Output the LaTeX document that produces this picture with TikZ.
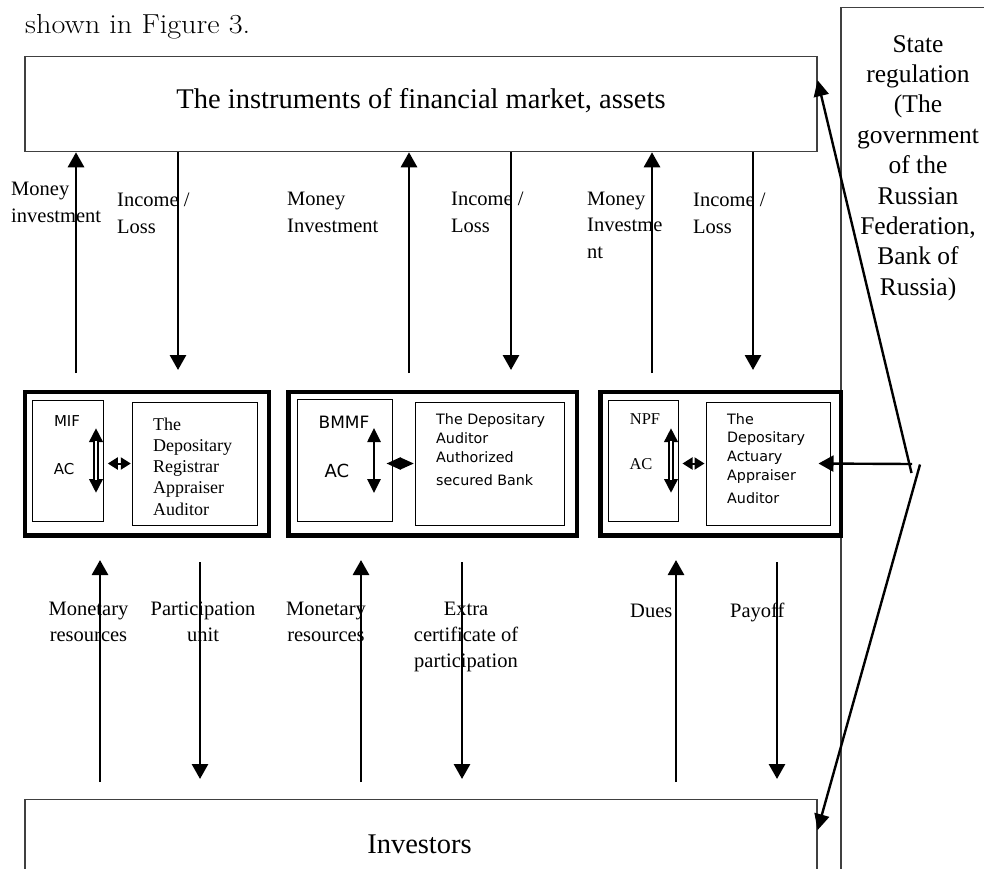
\documentclass[tikz,border=0pt]{standalone}
\usepackage{fontspec}
\newfontfamily\tnr{Liberation Serif}
\newfontfamily\dvs{DejaVu Sans}
\usetikzlibrary{arrows.meta,calc}
\begin{document}
\begin{tikzpicture}[x=1pt,y=-1pt,
  thinbox/.style={draw=black!75, line width=1.1pt, inner sep=0, minimum width=#1},
  frame/.style={draw, line width=4.3pt, inner sep=0},
  ibox/.style={draw, line width=1pt, inner sep=0},
  lbl/.style={font=\tnr\fontsize{20.5}{27}\selectfont, inner sep=0, align=left, anchor=base west},
  clbl/.style={font=\tnr\fontsize{20.5}{26}\selectfont, inner sep=0, align=center, anchor=base},
  arr/.style={line width=2.8pt, -{Triangle[width=16pt,length=15pt]}},
  darr/.style={line width=2.6pt, {Triangle[width=13pt,length=14pt]}-{Triangle[width=13pt,length=14pt]}},
  hdarr/.style={line width=2pt, {Triangle[width=12pt,length=#1]}-{Triangle[width=12pt,length=#1]}}
]
\useasboundingbox (0,0) rectangle (984,868);

% intro text
\node[anchor=base west, inner sep=0, font=\fontsize{27.5}{32}\selectfont] (intro) at (25,33) {\scalebox{1.1}[1]{shown in Figure 3.}};

% big boxes
\node[thinbox=792pt, minimum height=95pt] (market) at (421,104.2) {};
\node[anchor=base, inner sep=0, font=\tnr\fontsize{28.5}{34}\selectfont] (markettxt) at (421,108) {The instruments of financial market, assets};

\node[thinbox=792pt, minimum height=82pt] (inv) at (421,840.3) {};
\node[anchor=base, inner sep=0, font=\tnr\fontsize{28.5}{34}\selectfont] (invtxt) at (419.5,853) {Investors};

\node[thinbox=160pt, minimum height=873pt] (state) at (921,443.7) {};
\node[anchor=base, align=center, inner sep=0, font=\tnr\fontsize{25.5}{30.4}\selectfont] (statetxt) at (918,295.2)
  {State\\regulation\\(The\\government\\of the\\Russian\\Federation,\\Bank of\\Russia)};

% fund frames
\node[frame, minimum width=244pt, minimum height=143.3pt] (f1) at (146.7,463.7) {};
\node[frame, minimum width=288.7pt, minimum height=143.3pt] (f2) at (432.7,463.7) {};
\node[frame, minimum width=240.8pt, minimum height=143.3pt] (f3) at (720.9,463.7) {};

% inner boxes
\node[ibox, minimum width=71pt, minimum height=121pt] (b1l) at (67.8,460.5) {};
\node[ibox, minimum width=125.4pt, minimum height=123pt] (b1r) at (195,463.5) {};
\node[ibox, minimum width=95.4pt, minimum height=121.5pt] (b2l) at (345,460.3) {};
\node[ibox, minimum width=148.7pt, minimum height=123pt] (b2r) at (489.7,463.5) {};
\node[ibox, minimum width=70pt, minimum height=121pt] (b3l) at (643.3,460.5) {};
\node[ibox, minimum width=124pt, minimum height=123pt] (b3r) at (768,463.5) {};

% inner texts
\node[anchor=base, inner sep=0, font=\dvs\fontsize{15}{18}\selectfont] (mif) at (67,426) {MIF};
\node[anchor=base, inner sep=0, font=\dvs\fontsize{15}{18}\selectfont] (ac1) at (64,474) {AC};
\node[anchor=base west, align=left, inner sep=0, font=\tnr\fontsize{18}{21.25}\selectfont] (t1) at (153,515)
  {The\\Depositary\\Registrar\\Appraiser\\Auditor};

\node[anchor=base, inner sep=0, font=\dvs\fontsize{17}{20}\selectfont] (bmmf) at (344,428) {BMMF};
\node[anchor=base, inner sep=0, font=\dvs\fontsize{18}{20}\selectfont] (ac2) at (337,477) {AC};
\node[anchor=base west, align=left, inner sep=0, font=\dvs\fontsize{14.3}{19}\selectfont] (t2) at (436,485)
  {The Depositary\\Auditor\\Authorized\\[4pt]secured Bank};

\node[anchor=base, inner sep=0, font=\tnr\fontsize{16.5}{20}\selectfont] (npf) at (645,424) {NPF};
\node[anchor=base, inner sep=0, font=\tnr\fontsize{16.5}{20}\selectfont] (ac3) at (641,469) {AC};
\node[anchor=base west, align=left, inner sep=0, font=\dvs\fontsize{14.3}{18.7}\selectfont] (t3) at (727,503.3)
  {The\\Depositary\\Actuary\\Appraiser\\[4.5pt]Auditor};

% labels top
\node[lbl] (l1a) at (11,222) {Money\\investment};
\node[lbl] (l1b) at (117,233) {Income /\\Loss};
\node[lbl] (l2a) at (287,232) {Money\\Investment};
\node[lbl] (l2b) at (451,232) {Income /\\Loss};
\node[lbl, font=\tnr\fontsize{20.5}{26.5}\selectfont] (l3a) at (587,258) {Money\\Investme\\nt};
\node[lbl] (l3b) at (693,233) {Income /\\Loss};

% labels bottom
\node[clbl] (m1) at (88.5,641) {Monetary\\resources};
\node[clbl] (p1) at (203,641) {Participation\\unit};
\node[clbl] (m2) at (326,641) {Monetary\\resources};
\node[clbl] (e2) at (466,667) {Extra\\certificate of\\participation};
\node[lbl] (du) at (630,617) {Dues};
\node[lbl] (po) at (730,617) {Payoff};

% coordinates for free ends
\coordinate (u1) at (76,373);  \coordinate (d1) at (178,370);
\coordinate (u2) at (409,373); \coordinate (d2) at (511,370);
\coordinate (u3) at (652,373); \coordinate (d3) at (753,370);
\coordinate (bu1s) at (100,782); \coordinate (bu1e) at (100,560);
\coordinate (bd1s) at (200,562); \coordinate (bd1e) at (200,779);
\coordinate (bu2s) at (361,782); \coordinate (bu2e) at (361,560);
\coordinate (bd2s) at (462,562); \coordinate (bd2e) at (462,779);
\coordinate (bu3s) at (676,782); \coordinate (bu3e) at (676,560);
\coordinate (bd3s) at (777,562); \coordinate (bd3e) at (777,779);

% top arrows
\draw[arr] (u1) -- (u1 |- market.south);
\draw[arr] (d1 |- market.south) -- (d1);
\draw[arr] (u2) -- (u2 |- market.south);
\draw[arr] (d2 |- market.south) -- (d2);
\draw[arr] (u3) -- (u3 |- market.south);
\draw[arr] (d3 |- market.south) -- (d3);

% bottom arrows
\draw[arr] (bu1s) -- (bu1e);
\draw[arr] (bd1s) -- (bd1e);
\draw[arr] (bu2s) -- (bu2e);
\draw[arr] (bd2s) -- (bd2e);
\draw[arr] (bu3s) -- (bu3e);
\draw[arr] (bd3s) -- (bd3e);

% inner vertical double arrows
\draw[darr, line width=5.5pt] (96,428) -- (96,493);
\draw[white, line width=2.2pt] (96,441) -- (96,480);
\draw[darr] (374,428) -- (374,493);
\draw[darr, line width=5.5pt] (671,428) -- (671,493);
\draw[white, line width=2.2pt] (671,441) -- (671,480);

% inner horizontal double arrows
\draw[hdarr=10pt] ([xshift=4pt]b1l.east |- b1r.west) -- ([xshift=-1pt]b1r.west);
\draw[hdarr=14pt] ([xshift=-6.7pt]b2l.east |- b2r.west) -- ([xshift=-1pt]b2r.west);
\draw[hdarr=10pt] ([xshift=3.7pt]b3l.east |- b3r.west) -- ([xshift=-1pt]b3r.west);

% state regulation connectors
\coordinate (j1) at (911.5,473);
\coordinate (j2) at (920,464.5);
\coordinate (jh) at (912,464);
\draw[line width=2.4pt, -{Triangle[width=15pt,length=16pt]}] (j1) -- ([yshift=-24pt]market.north east);
\draw[line width=2.4pt, -{Triangle[width=15pt,length=16pt]}] (j2) -- ([yshift=-31.4pt]inv.north east);
\draw[line width=2.4pt, -{Triangle[width=16pt,length=15pt]}] (jh) -- ([xshift=-12pt]b3r.east);
\end{tikzpicture}
\end{document}
